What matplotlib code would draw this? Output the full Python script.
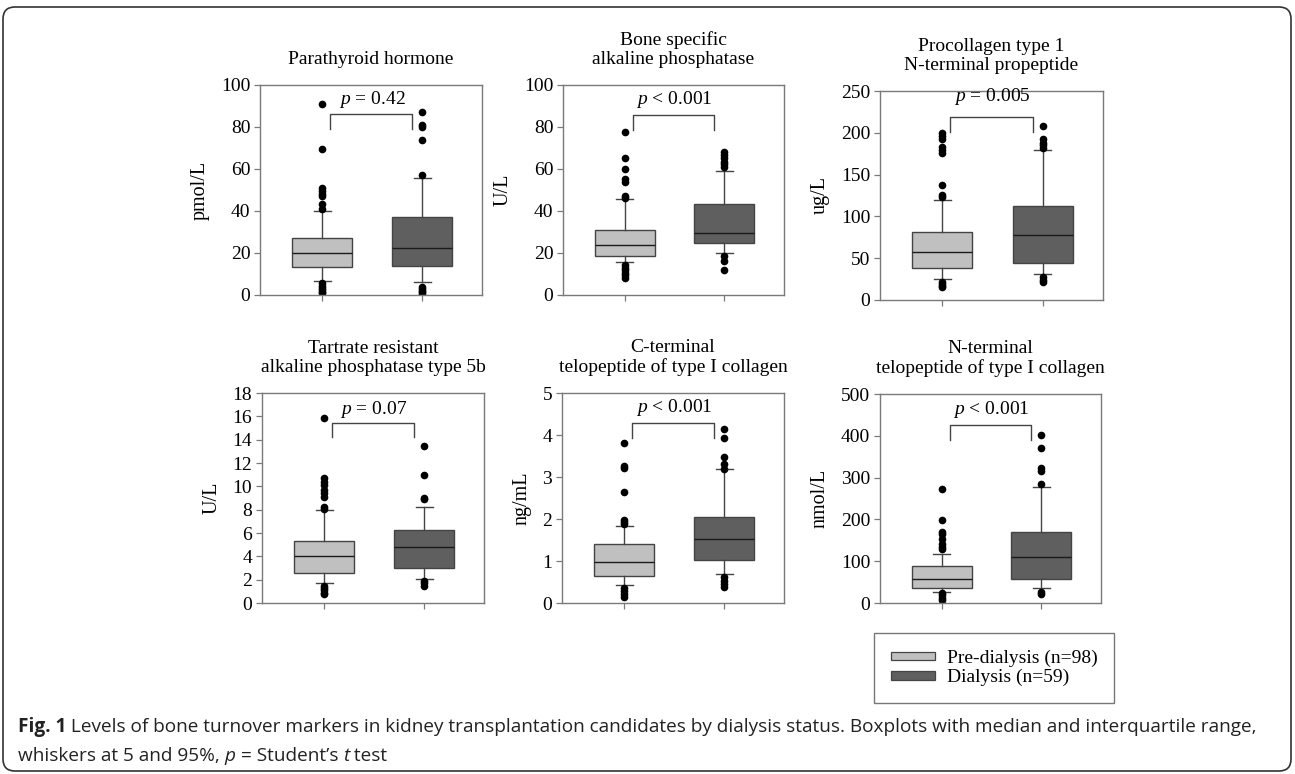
import matplotlib
matplotlib.use("Agg")
import matplotlib.pyplot as plt
from matplotlib.patches import Patch, FancyBboxPatch
from matplotlib import font_manager

# ---------------- data ----------------
titles = ["Parathyroid hormone",
          "Bone specific\nalkaline phosphatase",
          "Procollagen type 1\nN-terminal propeptide",
          "Tartrate resistant\nalkaline phosphatase type 5b",
          "C-terminal\ntelopeptide of type I collagen",
          "N-terminal\ntelopeptide of type I collagen"]
units = ["pmol/L", "U/L", "ug/L", "U/L", "ng/mL", "nmol/L"]
groups = ["Pre-dialysis (n=98)", "Dialysis (n=59)"]
p_texts = ["= 0.42", "< 0.001", "= 0.005", "= 0.07", "< 0.001", "< 0.001"]
y_max = [100, 100, 250, 18, 5, 500]
y_step = [20, 20, 50, 2, 1, 100]

# box stats per panel: (q1, median, q3, whisker low 5%, whisker high 95%)
pth_pre = (13.2, 19.8, 27.2, 6.7, 40.0)
pth_dia = (14.0, 22.6, 37.2, 6.3, 55.5)
bsap_pre = (18.8, 24.0, 31.0, 15.8, 45.5)
bsap_dia = (24.8, 29.5, 43.3, 19.8, 59.0)
p1np_pre = (38.7, 57.7, 81.0, 25.0, 120.0)
p1np_dia = (44.6, 77.8, 112.5, 31.5, 180.0)
trap_pre = (2.6, 4.0, 5.3, 1.7, 8.0)
trap_dia = (3.0, 4.8, 6.25, 2.05, 8.2)
ctx_pre = (0.65, 0.97, 1.40, 0.43, 1.83)
ctx_dia = (1.02, 1.52, 2.05, 0.68, 3.18)
ntx_pre = (36.5, 58.5, 88.5, 27.0, 117.0)
ntx_dia = (57.0, 111.0, 169.0, 37.0, 278.0)

# outliers
pth_pre_out = [91, 69.3, 51, 49.5, 48, 47, 43.5, 40.8, 5.5, 4.5, 3.5, 2.5, 1.5, 0.8]
pth_dia_out = [87.3, 81, 79.8, 73.8, 57.3, 4, 3, 2, 1.2, 0.5]
bsap_pre_out = [77.4, 65, 60, 55, 54, 47, 46.2, 14.5, 13, 11.8, 10.5, 9.3, 8.3]
bsap_dia_out = [68, 66.5, 65, 63.5, 62.3, 61, 18.8, 16, 12]
p1np_pre_out = [200, 196, 192, 183, 179, 176, 137.5, 126, 123.5, 22, 19.5, 17, 15]
p1np_dia_out = [208, 192, 188, 185, 182, 27, 24, 22]
trap_pre_out = [15.9, 10.7, 10.4, 10.1, 9.7, 9.4, 9.1, 8.2, 8.1, 1.5, 1.3, 1.1, 0.9, 0.75]
trap_dia_out = [13.5, 11.0, 9.0, 8.9, 1.9, 1.7, 1.5]
ctx_pre_out = [3.8, 3.27, 3.22, 2.65, 1.98, 1.93, 1.87, 0.36, 0.29, 0.22, 0.15]
ctx_dia_out = [4.15, 3.93, 3.47, 3.32, 3.2, 0.63, 0.53, 0.45, 0.38]
ntx_pre_out = [273, 199, 170, 165, 152, 140, 133, 128, 23, 18, 12, 8]
ntx_dia_out = [402, 371, 322, 316, 284, 27, 22]

# significance bracket: (bracket top, bracket leg bottom, text centre)
bracket_y = [(86, 79, 93), (85.6, 78.7, 93), (218.6, 201, 243),
             (15.4, 14.2, 16.6), (4.29, 3.94, 4.65), (425, 391, 462)]

panels = [
    (pth_pre, pth_dia, pth_pre_out, pth_dia_out),
    (bsap_pre, bsap_dia, bsap_pre_out, bsap_dia_out),
    (p1np_pre, p1np_dia, p1np_pre_out, p1np_dia_out),
    (trap_pre, trap_dia, trap_pre_out, trap_dia_out),
    (ctx_pre, ctx_dia, ctx_pre_out, ctx_dia_out),
    (ntx_pre, ntx_dia, ntx_pre_out, ntx_dia_out),
]

# ---------------- style ----------------
SERIF = "Liberation Serif"
plt.rcParams["font.family"] = [SERIF, "DejaVu Serif"]
plt.rcParams["mathtext.fontset"] = "custom"
plt.rcParams["mathtext.rm"] = SERIF
plt.rcParams["mathtext.it"] = SERIF + ":italic"

light = "#c0c0c0"
dark = "#5f5f5f"
edge = "#444444"
spine_c = "#7a7a7a"
FS = 14

W, H = 1295, 774
fig = plt.figure(figsize=(W / 100, H / 100), dpi=100)

# axes rectangles in pixels: left, right, top, bottom
rects = [(260, 482, 85, 295), (563, 784, 85, 295), (880, 1103, 91, 300),
         (262, 484, 393, 603), (562, 784, 393, 603), (880, 1101, 394, 603)]

for i, (l, r, t, b) in enumerate(rects):
    ax = fig.add_axes([l / W, 1 - b / H, (r - l) / W, (b - t) / H])
    pre, dia, pre_out, dia_out = panels[i]
    stats = []
    for st, out, lab in ((pre, pre_out, groups[0]), (dia, dia_out, groups[1])):
        q1, med, q3, lo, hi = st
        stats.append(dict(q1=q1, med=med, q3=q3, whislo=lo, whishi=hi,
                          fliers=out, label=lab))
    bp = ax.bxp(stats, positions=[1, 2], widths=0.6, capwidths=0.17,
                patch_artist=True, showfliers=True,
                boxprops=dict(edgecolor=edge, linewidth=1.0),
                whiskerprops=dict(color=edge, linewidth=1.0),
                capprops=dict(color=edge, linewidth=1.0),
                medianprops=dict(color="#1a1a1a", linewidth=1.0),
                flierprops=dict(marker="o", markerfacecolor="black",
                                markeredgecolor="black", markersize=4.5,
                                linestyle="none"))
    for patch, c in zip(bp["boxes"], (light, dark)):
        patch.set_facecolor(c)
    ax.set_xlim(0.38, 2.6)
    ax.set_ylim(0, y_max[i])
    ax.set_yticks([k * y_step[i] for k in range(int(round(y_max[i] / y_step[i])) + 1)])
    ax.set_xticks([1, 2])
    ax.set_xticklabels(["", ""])
    ax.tick_params(axis="both", direction="out", length=4, width=0.9,
                   color=spine_c, labelsize=FS, pad=3)
    for sp in ax.spines.values():
        sp.set_color(spine_c)
        sp.set_linewidth(1.0)
    ax.set_ylabel(units[i], fontsize=FS + 0.5, labelpad=8)

    top, low, ty = bracket_y[i]
    ax.plot([1.08, 1.08, 1.9, 1.9], [low, top, top, low], color=edge, linewidth=1.0)
    ax.text(1.5, ty, r"$\mathit{p}$ " + p_texts[i], ha="center", va="center",
            fontsize=FS)

    ax.annotate(titles[i], xy=(0.5, 1.0), xycoords="axes fraction",
                xytext=(0, 12), textcoords="offset points", ha="center",
                va="bottom", fontsize=FS, linespacing=1.2, multialignment="center")

# legend
handles = [Patch(facecolor=light, edgecolor=edge, linewidth=0.9),
           Patch(facecolor=dark, edgecolor=edge, linewidth=0.9)]
leg = fig.legend(handles, groups, loc="upper left",
                 bbox_to_anchor=(874 / W, 1 - 633 / H), fontsize=FS,
                 frameon=True, fancybox=False, handlelength=2.3,
                 handleheight=0.28, handletextpad=0.6, labelspacing=0.12,
                 borderpad=0.85, borderaxespad=0.0)
leg.get_frame().set_edgecolor("#555555")
leg.get_frame().set_linewidth(1.0)

# outer rounded border
border = FancyBboxPatch((0.03, 0.03), 12.88, 7.64,
                        boxstyle="round,pad=0,rounding_size=0.12",
                        transform=fig.dpi_scale_trans, facecolor="none",
                        edgecolor="#333333", linewidth=1.2)
fig.patches.append(border)

# caption
cap_font = None
for name in ["Liberation Sans Narrow", "Open Sans", "Noto Sans", "DejaVu Sans"]:
    try:
        font_manager.findfont(font_manager.FontProperties(family=name),
                              fallback_to_default=False)
        cap_font = name
        break
    except Exception:
        continue

line1 = [("Fig. 1", "bold", "normal"),
         (" Levels of bone turnover markers in kidney transplantation candidates by dialysis status. "
          "Boxplots with median and interquartile range,", "normal", "normal")]
line2 = [("whiskers at 5 and 95%, ", "normal", "normal"), ("p", "normal", "italic"),
         (" = Student\u2019s ", "normal", "normal"), ("t", "normal", "italic"),
         (" test", "normal", "normal")]

renderer = fig.canvas.get_renderer()


def place(segments, x0, yc, size):
    x = x0
    arts = []
    for txt, wt, stl in segments:
        t = fig.text(x / W, 1 - yc / H, txt, fontsize=size, fontweight=wt,
                     fontstyle=stl, family=[cap_font, "DejaVu Sans"],
                     ha="left", va="center", color="#222222")
        bb = t.get_window_extent(renderer)
        x += bb.width
        arts.append(t)
    return x, arts


end, arts = place(line1, 18, 727, 13)
width = end - 18
for a in arts:
    a.remove()
size = 13 * 1230 / width
size = min(size, 15)
place(line1, 18, 727, size)
place(line2, 18, 756, size)

fig.savefig("out.png", dpi=100)
